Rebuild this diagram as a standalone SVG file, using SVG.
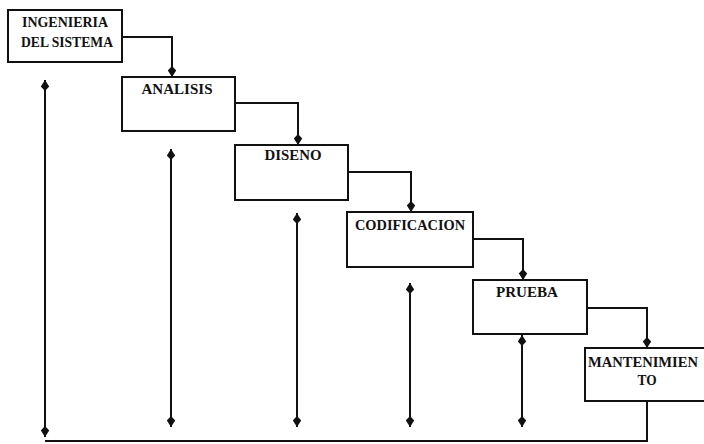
<svg xmlns="http://www.w3.org/2000/svg" width="704" height="444" viewBox="0 0 704 444">
  <style>
    .box { fill: #fff; stroke: #111; stroke-width: 2; }
    .lbl { font-family: "Liberation Serif", "Times New Roman", serif; font-weight: bold; font-size: 15px; fill: #111; text-anchor: middle; }
    .wire { fill: none; stroke: #111; stroke-width: 2; }
    .step { marker-end: url(#tip); }
    .back { marker-start: url(#tip); marker-end: url(#tip); }
  </style>
  <defs>
    <marker id="tip" viewBox="0 -4.5 11 9" refX="11" refY="0" markerWidth="11" markerHeight="9" markerUnits="userSpaceOnUse" orient="auto-start-reverse">
      <path d="M11,0 L4.5,-4.2 L0,0 L4.5,4.2 Z" fill="#111"/>
    </marker>
  </defs>

  <rect width="704" height="444" fill="#fff"/>

  <!-- connectors -->
  <g id="connectors">
    <!-- forward flow between stages -->
    <path class="wire step" d="M122,37 H172 V77"/>
    <path class="wire step" d="M235,103 H298 V145"/>
    <path class="wire step" d="M348,172 H411 V212"/>
    <path class="wire step" d="M473,239 H523 V280"/>
    <path class="wire step" d="M587,308 H647 V348"/>
    <!-- return loop from maintenance -->
    <path class="wire" d="M647,401 V441 H45"/>
    <!-- feedback lines -->
    <path class="wire back" d="M45,80 V437"/>
    <path class="wire back" d="M171,149 V427"/>
    <path class="wire back" d="M297,213 V427"/>
    <path class="wire back" d="M410,283 V427"/>
    <path class="wire back" d="M522,335 V427"/>
  </g>

  <g id="ingenieria">
    <rect class="box" x="8" y="10" width="114" height="52"/>
    <text class="lbl" x="65" y="27" textLength="86" lengthAdjust="spacingAndGlyphs">INGENIERIA</text>
    <text class="lbl" x="67" y="47" textLength="92" lengthAdjust="spacingAndGlyphs">DEL SISTEMA</text>
  </g>

  <g id="analisis">
    <rect class="box" x="122" y="77" width="113" height="54"/>
    <text class="lbl" x="177" y="94" textLength="71" lengthAdjust="spacingAndGlyphs">ANALISIS</text>
  </g>

  <g id="diseno">
    <rect class="box" x="235" y="145" width="113" height="55"/>
    <text class="lbl" x="293" y="160" textLength="57" lengthAdjust="spacingAndGlyphs">DISENO</text>
  </g>

  <g id="codificacion">
    <rect class="box" x="347" y="212" width="126" height="55"/>
    <text class="lbl" x="410" y="230" textLength="110" lengthAdjust="spacingAndGlyphs">CODIFICACION</text>
  </g>

  <g id="prueba">
    <rect class="box" x="473" y="280" width="114" height="54"/>
    <text class="lbl" x="527" y="297" textLength="62" lengthAdjust="spacingAndGlyphs">PRUEBA</text>
  </g>

  <g id="mantenimiento">
    <rect class="box" x="585" y="348" width="125" height="53"/>
    <text class="lbl" x="643" y="367" textLength="110" lengthAdjust="spacingAndGlyphs">MANTENIMIEN</text>
    <text class="lbl" x="647" y="385" textLength="19" lengthAdjust="spacingAndGlyphs">TO</text>
  </g>
</svg>
